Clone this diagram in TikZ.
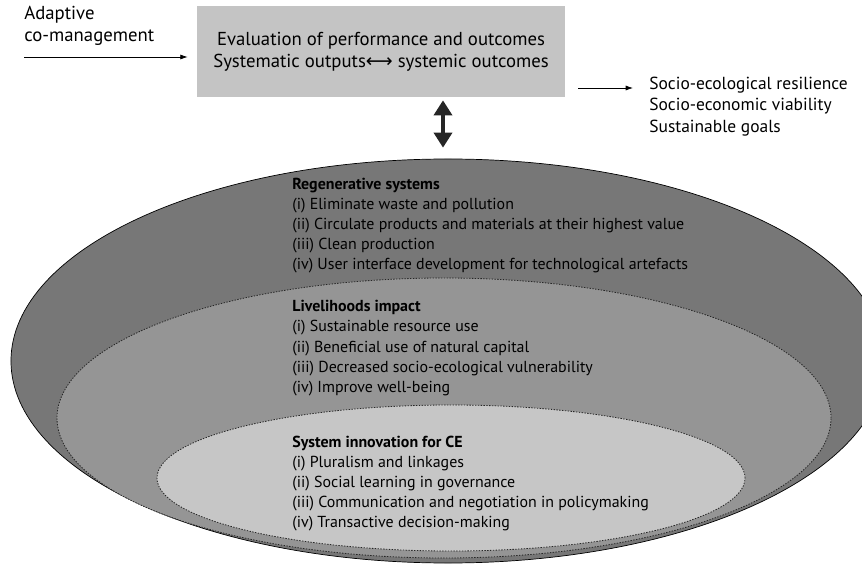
\documentclass[tikz,border=0pt]{standalone}
\usepackage{fontspec}
\setmainfont{PT Sans}
\newfontfamily\symfont{DejaVu Sans}
\usetikzlibrary{shapes.geometric,arrows.meta}
\definecolor{boxgray}{HTML}{C4C4C4}
\definecolor{outergray}{HTML}{777777}
\definecolor{midgray}{HTML}{959595}
\definecolor{innergray}{HTML}{C6C6C6}

\begin{document}
\begin{tikzpicture}[x=0.03cm,y=-0.03cm,line width=0.6pt,
  ring/.style={ellipse,inner sep=0pt},
  dotline/.style={draw=black!85,dash pattern=on 1.2pt off 1.2pt,line width=0.7pt},
  big/.style={font=\fontsize{16}{18.5}\selectfont,inner sep=0pt},
  item/.style={font=\fontsize{13.6}{16}\selectfont,anchor=base west,inner sep=0pt},
  head/.style={item,font=\fontsize{13.6}{16}\selectfont\bfseries},
  arr/.style={-{Latex[length=2.2mm,width=1.5mm]},line width=0.6pt}]
  \useasboundingbox (0,0) rectangle (862,567);
  \clip (0,0) rectangle (862,567);

  % rings
  \node[ring,draw=black,fill=outergray,minimum width=26.22cm,minimum height=12.12cm] (outer) at (448,361) {};
  \node[ring,dotline,fill=midgray,minimum width=23.22cm,minimum height=8.4cm] (middle) at (444,418) {};
  \node[ring,dotline,fill=innergray,minimum width=17.64cm,minimum height=4.38cm] (inner) at (451,478) {};

  % evaluation box and its inputs / outputs
  \node[big,fill=boxgray,align=center,minimum width=11.04cm,minimum height=2.73cm] (evalbox) at (381,51.5)
    {Evaluation of performance and outcomes\\ Systematic outputs{\symfont\fontsize{16}{15}\selectfont ⟷} systemic outcomes};
  \node[big,align=left,anchor=west] (adapt) at (24,26) {Adaptive\\ co-management};
  \node[big,font=\fontsize{14.9}{18.3}\selectfont,align=left,anchor=west] (goals) at (649,106.5)
    {Socio-ecological resilience\\ Socio-economic viability\\ Sustainable goals};
  \coordinate (ain) at (24,57);
  \coordinate (aout) at (578,88);
  \coordinate (dx) at (443,0);
  \draw[arr,shorten >=9*0.3mm] (ain) -- (evalbox.west |- ain);
  \draw[arr,shorten >=16*0.3mm] (aout) -- (goals.west |- aout);
  \draw[{Triangle[length=4.5mm,width=5.4mm]}-{Triangle[length=4.5mm,width=5.4mm]},line width=3pt,black!85,
    shorten <=3*0.3mm,shorten >=11*0.3mm] (evalbox.south -| dx) -- (outer.north -| dx);

  % ring texts
  \node[head] (reghead) at (292,190) {Regenerative systems};
  \foreach \t [count=\i] in {{(i) Eliminate waste and pollution},
      {(ii) Circulate products and materials at their highest value},
      {(iii) Clean production},
      {(iv) User interface development for technological artefacts}}
    \node[item] (reg\i) at (292,190+20*\i) {\t};
  \node[head] (livhead) at (292,312) {Livelihoods impact};
  \foreach \t [count=\i] in {{(i) Sustainable resource use},
      {(ii) Beneficial use of natural capital},
      {(iii) Decreased socio-ecological vulnerability},
      {(iv) Improve well-being}}
    \node[item] (liv\i) at (292,312+20*\i) {\t};
  \node[head] (syshead) at (292,447) {System innovation for CE};
  \foreach \t [count=\i] in {{(i) Pluralism and linkages},
      {(ii) Social learning in governance},
      {(iii) Communication and negotiation in policymaking},
      {(iv) Transactive decision-making}}
    \node[item] (sys\i) at (292,447+20*\i) {\t};
\end{tikzpicture}
\end{document}
